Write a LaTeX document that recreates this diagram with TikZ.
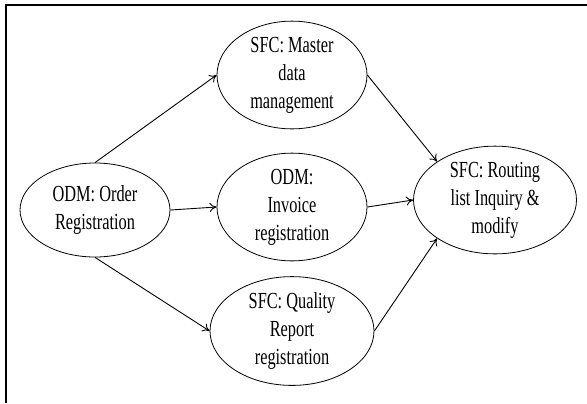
\documentclass[tikz,border=0pt]{standalone}
\usepackage{fontspec}
\setmainfont[FakeStretch=0.71]{Liberation Serif}
\usetikzlibrary{shapes.geometric,arrows.meta}
\tikzset{
  proc/.style={ellipse,draw,line width=0.8bp,inner sep=0pt,align=center,
    minimum width=150bp,minimum height=94bp,
    font=\fontsize{23bp}{28bp}\selectfont},
  flow/.style={line width=0.9bp,-{To[length=7bp,width=9bp]}},
  frame/.style={line width=1.4bp}
}
\begin{document}
\begin{tikzpicture}[x=1bp,y=-1bp]
\useasboundingbox (0,0) rectangle (587,403);
\coordinate (ftop) at (587,5);
\coordinate (fcorner) at (6,5);
\coordinate (fbot) at (6,403);
\draw[frame] (ftop) -- (fcorner) -- (fbot);
\node[proc] (order) at (95,210) {ODM: Order\\Registration};
\node[proc] (master) at (292,75) {SFC: Master\\data\\management};
\node[proc] (invoice) at (292,207) {ODM:\\Invoice\\registration};
\node[proc,minimum width=164bp] (quality) at (292,331) {SFC: Quality\\Report\\registration};
\node[proc,minimum width=163bp] (routing) at (495,200) {SFC: Routing\\list Inquiry \&\\modify};
\draw[flow] (order.north) -- (master.west);
\draw[flow] (order.east) -- (invoice.west);
\draw[flow] (order.south) -- (quality.west);
\draw[flow] (master.east) -- (routing.north west);
\draw[flow] (invoice.east) -- (routing.west);
\draw[flow] (quality.east) -- (routing.south west);
\end{tikzpicture}
\end{document}
